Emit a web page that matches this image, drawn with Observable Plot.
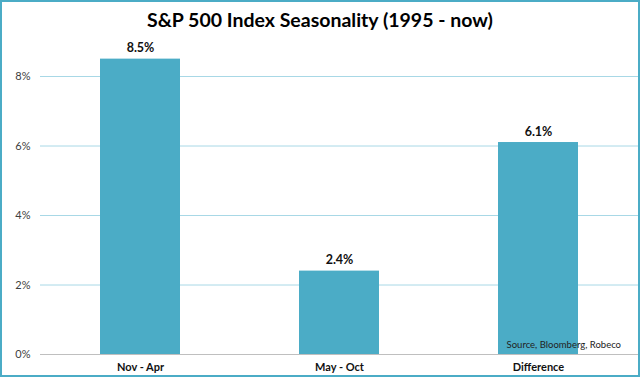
<!DOCTYPE html>
<html><head><meta charset="utf-8">
<script src="https://cdn.jsdelivr.net/npm/d3@7"></script>
<script src="https://cdn.jsdelivr.net/npm/@observablehq/plot@0.6"></script>
<style>
html,body{margin:0;padding:0;background:#fff;}
#wrap{position:relative;width:640px;height:377px;overflow:hidden;font-family:Lato,"Open Sans",sans-serif;}
#border{position:absolute;left:0;top:0;width:640px;height:377px;box-sizing:border-box;border:2px solid #4bacc6;pointer-events:none;}
#title{position:absolute;left:0;top:8px;width:640px;text-align:center;font-size:19.5px;font-weight:bold;color:#000;}
#source{position:absolute;right:19px;top:339px;font-size:9.5px;color:#222;}
#chart{position:absolute;left:0;top:0;}
</style></head>
<body>
<div id="wrap">
<div id="chart"></div>
<div id="title">S&amp;P 500 Index Seasonality (1995 - now)</div>
<div id="source">Source, Bloomberg, Robeco</div>
<div id="border"></div>
</div>
<script>
const categories = ["Nov - Apr", "May - Oct", "Difference"];
const values = [8.5, 2.4, 6.1];
const yTicks = [0, 2, 4, 6, 8];

const data = categories.map((c, i) => ({cat: c, value: values[i]}));

const chart = Plot.plot({
  width: 640,
  height: 377,
  marginLeft: 40,
  marginRight: 2,
  marginTop: 76,
  marginBottom: 23,
  style: {fontFamily: "Lato, 'Open Sans', sans-serif", background: "transparent"},
  x: {domain: categories, paddingInner: 0.6, paddingOuter: 0.3, label: null},
  y: {domain: [0, 8], nice: false, label: null},
  marks: [
    Plot.gridY(yTicks.filter(d => d > 0), {stroke: "#a8d8e6", strokeOpacity: 1}),
    Plot.barY(data, {x: "cat", y: "value", fill: "#4bacc6"}),
    Plot.ruleY([0], {stroke: "#bfbfbf"}),
    Plot.axisY(yTicks, {tickSize: 0, tickPadding: 10, tickFormat: d => d + "%", fontSize: 11, fill: "#404040"}),
    Plot.axisX({tickSize: 0, tickPadding: 9, fontSize: 11, fontWeight: "bold", fill: "#111"}),
    Plot.text(data, {x: "cat", y: "value", text: d => d.value.toFixed(1) + "%", dy: -11, fontSize: 12.5, fontWeight: "bold", fill: "#111"})
  ]
});
document.getElementById("chart").appendChild(chart);
</script>
</body></html>
